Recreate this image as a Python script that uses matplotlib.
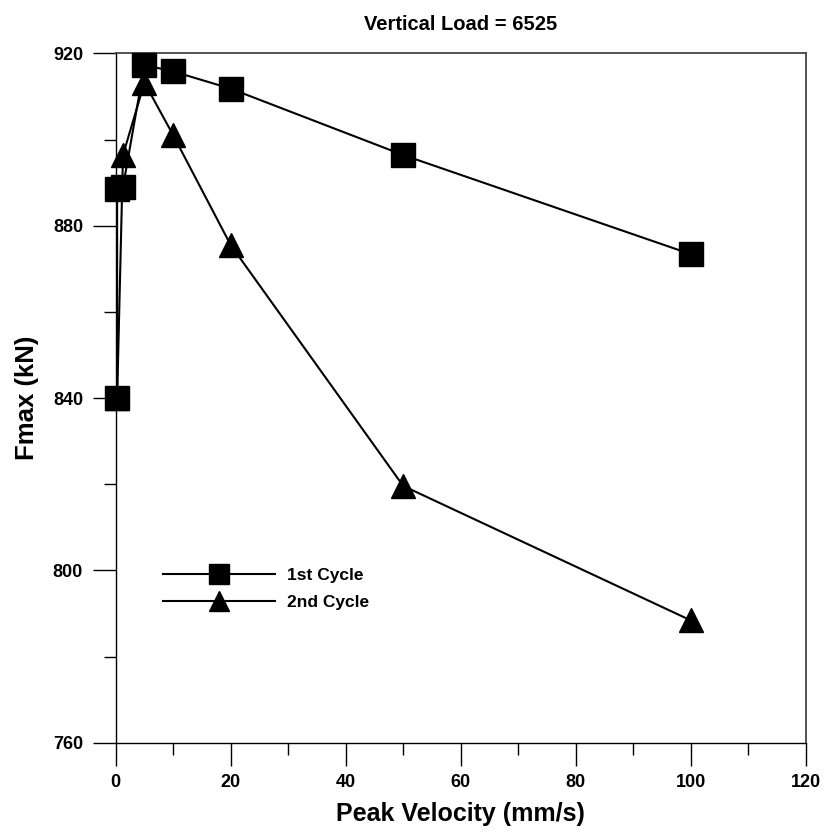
import matplotlib
matplotlib.use("Agg")
import matplotlib.pyplot as plt
from matplotlib.ticker import MultipleLocator

plt.rcParams['font.family'] = ['Liberation Sans', 'DejaVu Sans']
plt.rcParams['font.weight'] = 'bold'

# Peak velocity (mm/s) and maximum force (kN) for each loading cycle
vel_cycle1 = [0.25, 0.25, 1.27, 5, 10, 20, 50, 100]
fmax_cycle1 = [840, 888.5, 889, 917.3, 915.8, 911.8, 896.4, 873.4]

vel_cycle2 = [0.25, 1.27, 5, 10, 20, 50, 100]
fmax_cycle2 = [840, 896.4, 913.2, 901.0, 875.5, 819.6, 788.4]

series_labels = ["1st Cycle", "2nd Cycle"]
title_text = "Vertical Load = 6525"
x_label = "Peak Velocity (mm/s)"
y_label = "Fmax (kN)"

fig = plt.figure(figsize=(8.27, 8.36), dpi=100)
ax = fig.add_axes([0.1399, 0.1116, 0.8343, 0.8246])

ax.plot(vel_cycle1, fmax_cycle1, color='black', lw=1.5, marker='s',
        markersize=17, label=series_labels[0], zorder=3, clip_on=False)
ax.plot(vel_cycle2, fmax_cycle2, color='black', lw=1.5, marker='^',
        markersize=17, label=series_labels[1], zorder=3, clip_on=False)

ax.set_xlim(0, 120)
ax.set_ylim(760, 920)
ax.xaxis.set_major_locator(MultipleLocator(20))
ax.xaxis.set_minor_locator(MultipleLocator(10))
ax.yaxis.set_major_locator(MultipleLocator(40))
ax.yaxis.set_minor_locator(MultipleLocator(20))

ax.tick_params(which='major', direction='out', length=16.5, width=1,
               labelsize=13, top=False, right=False)
ax.tick_params(which='minor', direction='out', length=8.5, width=1,
               top=False, right=False)
ax.tick_params(axis='x', which='major', pad=6)
ax.tick_params(axis='y', which='major', pad=7)
for lab in ax.get_xticklabels() + ax.get_yticklabels():
    lab.set_fontweight('bold')

for side in ['left', 'bottom']:
    ax.spines[side].set_linewidth(1)
    ax.spines[side].set_color('black')
for side in ['top', 'right']:
    ax.spines[side].set_linewidth(1.3)
    ax.spines[side].set_color('#444444')

ax.set_title(title_text, fontsize=14.5, fontweight='bold', pad=17)
ax.set_xlabel(x_label, fontsize=18, fontweight='bold', labelpad=8)
ax.set_ylabel(y_label, fontsize=18.5, fontweight='bold', labelpad=10)

leg = ax.legend(loc='upper left', bbox_to_anchor=(0.069, 0.254),
                frameon=False, fontsize=12.5, handlelength=6.45,
                handletextpad=0.7, labelspacing=0.68, markerscale=0.88,
                borderpad=0, borderaxespad=0)
for t in leg.get_texts():
    t.set_fontweight('bold')

fig.savefig("out.png", dpi=100)
